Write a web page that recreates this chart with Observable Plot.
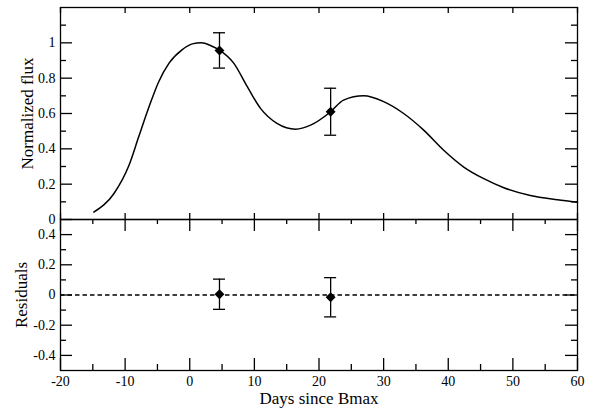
<!DOCTYPE html>
<html><head><meta charset="utf-8">
<script src="https://cdn.jsdelivr.net/npm/d3@7"></script>
<script src="https://cdn.jsdelivr.net/npm/@observablehq/plot@0.6"></script>
<style>
body{margin:0;background:#fff;}
#chart{position:relative;width:589px;height:410px;}
#chart svg{position:absolute;left:0;top:0;font-family:'Liberation Serif','Times New Roman',serif;overflow:visible;background:transparent;color:#000;}
#chart svg text{font-family:'Liberation Serif','Times New Roman',serif !important;font-variant:normal !important;}
</style></head><body><div id="chart"></div>
<script>
// Model light curve
const days = [-14.85,-11.75,-9.4,-7.9,-6.3,-4.8,-3.2,-1.2,0.4,1.8,3.2,4.65,6.8,8.9,10.95,13.5,16.4,18.7,21.8,23.8,26.9,30.0,33.1,36.2,39.3,42.4,45.5,48.6,52.7,56.9,60];
const flux = [0.042,0.146,0.307,0.468,0.638,0.78,0.885,0.96,0.994,1.0,0.985,0.957,0.885,0.752,0.629,0.544,0.511,0.534,0.61,0.676,0.70,0.667,0.60,0.506,0.392,0.297,0.231,0.18,0.136,0.112,0.098];
// Observations
const obsDays = [4.6, 21.8];
const obsFlux = [0.957, 0.61];
const obsErr = [0.1, 0.133];
const residuals = [0.005, -0.015];
const resErr = [0.1, 0.13];
// Ticks
const xTicks = [-20,-10,0,10,20,30,40,50,60];
const xMinor = [-15,-5,5,15,25,35,45,55];
const fluxTicks = [0,0.2,0.4,0.6,0.8,1];
const fluxMinor = [0.1,0.3,0.5,0.7,0.9,1.1];
const fluxRightTicks = [0.2,0.4,0.6,0.8,1];
const resTicks = [-0.4,-0.2,0,0.2,0.4];
const resMinor = [-0.3,-0.1,0.1,0.3];
const xLabel = "Days since Bmax";
const fluxLabel = "Normalized flux";
const resLabel = "Residuals";

const curve = days.map((d,i)=>({d, f: flux[i]}));
const obs = obsDays.map((d,i)=>({d, f: obsFlux[i], e: obsErr[i], r: residuals[i], re: resErr[i]}));
const fmt = v => String(v);
const FONT = "Liberation Serif";
const SW = 1.3;

function xEdgeTicks(values, yv, len, dir) {
  return Plot.ruleX(values, {x: d=>d, y1: ()=>yv, y2: ()=>yv,
    insetTop: dir === "up" ? -len : 0, insetBottom: dir === "down" ? -len : 0,
    stroke: "black", strokeWidth: SW});
}
function yEdgeTicks(values, xv, len, dir) {
  return Plot.ruleY(values, {y: d=>d, x1: ()=>xv, x2: ()=>xv,
    insetLeft: dir === "left" ? -len : 0, insetRight: dir === "right" ? -len : 0,
    stroke: "black", strokeWidth: SW});
}

const X0 = -20, X1 = 60;
const common = {
  width: 589, height: 410, marginLeft: 60, marginRight: 12,
  style: "background: transparent; overflow: visible; font-family: 'Liberation Serif', serif; font-size: 14px; color: black;",
};

const topPlot = Plot.plot({
  ...common,
  marginTop: 7, marginBottom: 191,
  x: {domain: [X0, X1], axis: null},
  y: {domain: [0, 1.2], axis: null},
  marks: [
    Plot.frame({stroke: "black", strokeWidth: SW}),
    xEdgeTicks(xTicks, 0, 6, "up"),
    xEdgeTicks(xTicks, 1.2, 6, "down"),
    yEdgeTicks(fluxTicks, X0, 12, "right"),
    yEdgeTicks(fluxMinor, X0, 6, "right"),
    yEdgeTicks(fluxRightTicks, X1, 12, "left"),
    yEdgeTicks(fluxMinor, X1, 6, "left"),
    Plot.axisY({ticks: fluxTicks, tickSize: 0, tickPadding: 5, tickFormat: fmt, label: null, fontSize: 14, fontFamily: FONT}),
    Plot.text([fluxLabel], {text: d=>d, frameAnchor: "left", dx: -33, rotate: -90, textAnchor: "middle", lineAnchor: "middle", fontSize: 17, fontFamily: FONT}),
    Plot.line(curve, {x: "d", y: "f", curve: "monotone-x", stroke: "black", strokeWidth: 1.5}),
    Plot.ruleX(obs, {x: "d", y1: d=>d.f - d.e, y2: d=>d.f + d.e, stroke: "black", strokeWidth: SW}),
    Plot.ruleY(obs, {y: d=>d.f + d.e, x1: "d", x2: "d", insetLeft: -6, insetRight: -6, stroke: "black", strokeWidth: SW}),
    Plot.ruleY(obs, {y: d=>d.f - d.e, x1: "d", x2: "d", insetLeft: -6, insetRight: -6, stroke: "black", strokeWidth: SW}),
    Plot.dot(obs, {x: "d", y: "f", symbol: "diamond2", r: 3.5, fill: "black", stroke: "black"})
  ]
});

const bottomPlot = Plot.plot({
  ...common,
  marginTop: 219, marginBottom: 40,
  x: {domain: [X0, X1], axis: null},
  y: {domain: [-0.5, 0.5], axis: null},
  marks: [
    Plot.frame({stroke: "black", strokeWidth: SW}),
    xEdgeTicks(xTicks, -0.5, 12, "up"),
    xEdgeTicks(xMinor, -0.5, 6, "up"),
    xEdgeTicks(xTicks, 0.5, 12, "down"),
    xEdgeTicks(xMinor, 0.5, 5, "down"),
    yEdgeTicks(resTicks, X0, 12, "right"),
    yEdgeTicks(resMinor, X0, 6, "right"),
    yEdgeTicks(resTicks, X1, 12, "left"),
    yEdgeTicks(resMinor, X1, 6, "left"),
    Plot.axisY({ticks: resTicks, tickSize: 0, tickPadding: 5, tickFormat: fmt, label: null, fontSize: 14, fontFamily: FONT}),
    Plot.axisX({ticks: xTicks, tickSize: 0, tickPadding: 6, tickFormat: fmt, label: null, fontSize: 14, fontFamily: FONT}),
    Plot.text([resLabel], {text: d=>d, frameAnchor: "left", dx: -39, rotate: -90, textAnchor: "middle", lineAnchor: "middle", fontSize: 17, fontFamily: FONT}),
    Plot.text([xLabel], {text: d=>d, frameAnchor: "bottom", dy: 28, lineAnchor: "middle", fontSize: 17, fontFamily: FONT}),
    Plot.ruleY([0], {stroke: "black", strokeWidth: 1.3, strokeDasharray: "4.5,3"}),
    Plot.ruleX(obs, {x: "d", y1: d=>d.r - d.re, y2: d=>d.r + d.re, stroke: "black", strokeWidth: SW}),
    Plot.ruleY(obs, {y: d=>d.r + d.re, x1: "d", x2: "d", insetLeft: -6, insetRight: -6, stroke: "black", strokeWidth: SW}),
    Plot.ruleY(obs, {y: d=>d.r - d.re, x1: "d", x2: "d", insetLeft: -6, insetRight: -6, stroke: "black", strokeWidth: SW}),
    Plot.dot(obs, {x: "d", y: "r", symbol: "diamond2", r: 3.5, fill: "black", stroke: "black"})
  ]
});

const chart = document.getElementById("chart");
chart.appendChild(bottomPlot);
chart.appendChild(topPlot);
</script></body></html>
